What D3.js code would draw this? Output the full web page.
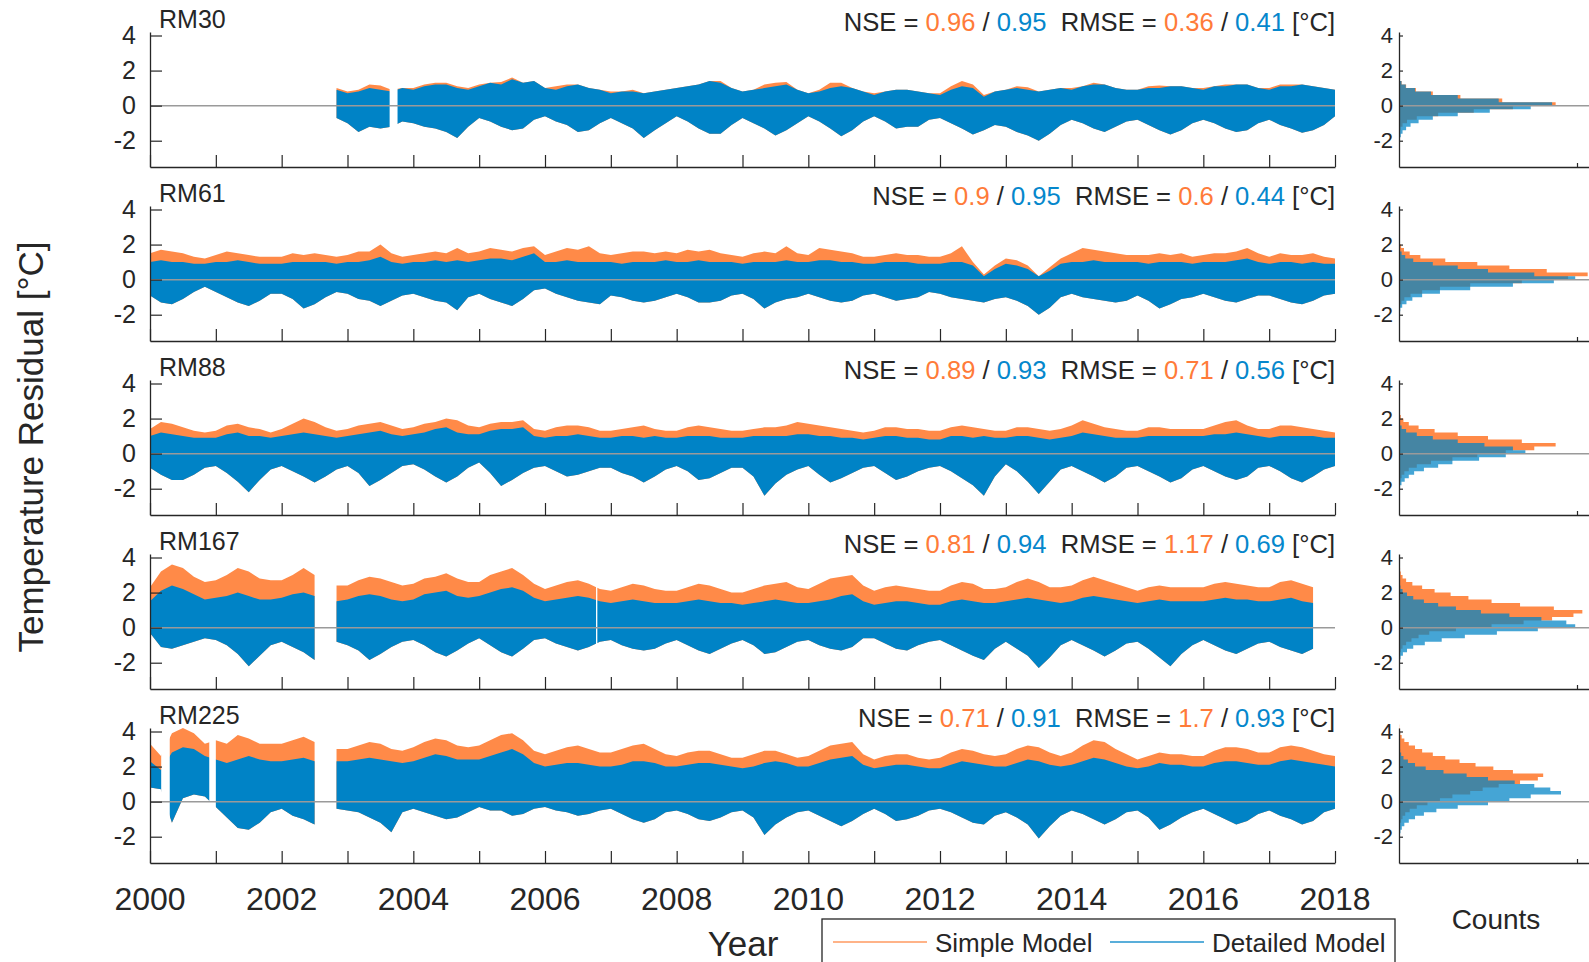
<!DOCTYPE html>
<html>
<head>
<meta charset="utf-8">
<script src="https://cdn.jsdelivr.net/npm/d3@7"></script>
<style>
  body { margin: 0; background: #fff; }
  text { font-family: "Liberation Sans", Arial, sans-serif; fill: #262626; }
</style>
</head>
<body>
<svg id="chart" width="1589" height="962"></svg>
<script>
// station names and model scores
const stations = ["RM30", "RM61", "RM88", "RM167", "RM225"];
const nseSimple = ["0.96", "0.9", "0.89", "0.81", "0.71"];
const nseDetailed = ["0.95", "0.95", "0.93", "0.94", "0.91"];
const rmseSimple = ["0.36", "0.6", "0.71", "1.17", "1.7"];
const rmseDetailed = ["0.41", "0.44", "0.56", "0.69", "0.93"];

// axis ticks
const yTicks = [-2, 0, 2, 4];
const yearTicks = [2000,2001,2002,2003,2004,2005,2006,2007,2008,2009,2010,2011,2012,2013,2014,2015,2016,2017,2018];
const yearLabels = [2000,2002,2004,2006,2008,2010,2012,2014,2016,2018];

// residual envelopes, read every two months (2000.0 ... 2018.0), null = no data
const sampleTimes = d3.range(109).map(k => 2000 + k / 6);

const simpleHi_RM30 = [null,null,null,null,null,null, null,null,null,null,null,null, null,null,null,null,null,1.0,
  0.8,0.9,1.2,1.15,0.9,1.0, 1.0,1.2,1.3,1.3,1.1,1.0, 1.2,1.3,1.35,1.6,1.3,1.4, 1.0,1.1,1.2,1.2,1.0,0.9,
  0.8,0.8,0.9,0.7,0.8,0.9, 1.0,1.1,1.2,1.4,1.4,1.0, 0.8,0.9,1.2,1.3,1.35,0.9, 0.7,0.9,1.3,1.3,1.0,0.8,
  0.7,0.8,0.9,0.9,0.8,0.7, 0.7,1.1,1.4,1.2,0.6,0.8, 0.9,1.1,1.05,0.8,0.9,1.0, 1.0,1.1,1.3,1.2,1.0,0.9,
  0.9,1.1,1.15,1.1,1.1,1.0, 1.0,1.1,1.2,1.2,1.2,1.0, 1.0,1.2,1.2,1.2,1.1,1.0, 0.9];
const detailedHi_RM30 = [null,null,null,null,null,null, null,null,null,null,null,null, null,null,null,null,null,0.9,
  0.7,0.8,1.0,0.9,0.8,1.0, 0.9,1.1,1.2,1.2,1.0,0.9, 1.1,1.3,1.2,1.5,1.3,1.4, 1.0,0.9,1.1,1.2,1.0,0.9,
  0.7,0.8,0.8,0.7,0.8,0.9, 1.0,1.1,1.2,1.4,1.3,1.0, 0.8,0.9,1.0,1.1,1.2,0.9, 0.7,0.8,1.0,1.1,1.0,0.8,
  0.6,0.8,0.9,0.9,0.8,0.7, 0.6,0.9,1.1,1.0,0.5,0.8, 0.9,1.0,0.9,0.8,0.9,1.0, 0.9,1.1,1.2,1.2,1.0,0.9,
  0.9,1.0,1.0,1.1,1.1,1.0, 0.9,1.1,1.1,1.2,1.2,1.0, 0.9,1.1,1.1,1.2,1.1,1.0, 0.9];
const detailedLo_RM30 = [null,null,null,null,null,null, null,null,null,null,null,null, null,null,null,null,null,-0.7,
  -1.0,-1.5,-1.2,-1.3,-1.2,-0.9, -1.0,-1.2,-1.3,-1.5,-1.85,-1.2, -0.7,-0.9,-1.2,-1.4,-1.3,-0.8, -0.6,-0.9,-1.1,-1.5,-1.4,-1.0,
  -0.7,-1.0,-1.3,-1.85,-1.4,-1.0, -0.6,-0.9,-1.3,-1.6,-1.6,-1.1, -0.7,-1.0,-1.3,-1.7,-1.4,-1.0, -0.6,-0.9,-1.3,-1.75,-1.4,-0.9,
  -0.6,-0.9,-1.3,-1.2,-1.2,-0.8, -0.7,-1.0,-1.3,-1.65,-1.4,-1.1, -1.2,-1.5,-1.7,-2.0,-1.6,-1.1, -0.8,-1.0,-1.3,-1.5,-1.2,-0.9,
  -0.8,-1.1,-1.4,-1.65,-1.4,-1.0, -0.8,-1.0,-1.3,-1.5,-1.4,-1.0, -0.8,-1.1,-1.3,-1.55,-1.4,-1.1, -0.6];

const simpleHi_RM61 = [1.5,1.7,1.6,1.5,1.3,1.2, 1.4,1.6,1.5,1.4,1.3,1.3, 1.3,1.5,1.4,1.5,1.4,1.3, 1.4,1.6,1.6,2.0,1.5,1.3,
  1.4,1.5,1.6,1.5,1.8,1.5, 1.6,1.8,1.7,1.6,1.8,1.9, 1.4,1.6,1.8,1.7,1.9,1.5, 1.4,1.5,1.6,1.6,1.5,1.6,
  1.5,1.7,1.6,1.7,1.5,1.4, 1.3,1.5,1.6,1.5,1.9,1.5, 1.4,1.8,1.7,1.6,1.5,1.3, 1.3,1.4,1.5,1.4,1.4,1.3,
  1.3,1.5,1.9,1.0,0.3,0.8, 1.2,1.1,0.8,0.2,0.7,1.2, 1.5,1.8,1.7,1.6,1.5,1.4, 1.4,1.4,1.5,1.4,1.5,1.3,
  1.4,1.5,1.5,1.6,1.8,1.5, 1.3,1.5,1.4,1.4,1.5,1.3, 1.2];
const detailedHi_RM61 = [1.0,1.1,1.0,1.0,0.9,0.9, 1.0,1.0,1.1,1.0,0.9,0.9, 0.9,1.0,1.0,1.0,1.0,0.9, 1.0,1.0,1.1,1.3,1.0,0.9,
  1.0,1.0,1.1,1.0,1.1,1.0, 1.1,1.2,1.2,1.1,1.3,1.5, 1.0,1.0,1.1,1.0,1.0,1.0, 1.0,0.9,1.0,1.0,1.0,1.1,
  1.0,1.0,1.1,1.0,1.0,1.0, 0.9,1.0,1.0,1.0,1.1,1.0, 1.0,1.1,1.1,1.0,1.0,0.9, 0.9,1.0,1.0,1.0,0.9,0.9,
  0.9,1.0,1.0,0.8,0.2,0.6, 0.9,0.8,0.6,0.2,0.5,0.9, 1.0,1.0,1.1,1.0,1.0,1.0, 1.0,0.9,1.0,1.0,1.0,0.9,
  1.0,1.0,1.0,1.1,1.2,1.0, 0.9,1.0,1.0,0.9,1.0,0.9, 0.9];
const detailedLo_RM61 = [-0.9,-1.3,-1.4,-1.1,-0.7,-0.4, -0.7,-1.0,-1.3,-1.5,-1.2,-0.8, -0.8,-1.1,-1.65,-1.4,-1.0,-0.7, -0.8,-1.1,-1.2,-1.5,-1.2,-0.9,
  -0.8,-1.0,-1.2,-1.3,-1.75,-1.0, -0.8,-1.1,-1.3,-1.5,-1.1,-0.6, -0.5,-0.8,-1.0,-1.2,-1.3,-1.4, -0.9,-1.0,-1.2,-1.3,-1.2,-1.0,
  -0.8,-1.0,-1.3,-1.3,-1.2,-0.9, -0.8,-1.1,-1.65,-1.3,-1.1,-1.0, -0.8,-1.0,-1.2,-1.3,-1.2,-0.9, -0.8,-1.0,-1.2,-1.1,-1.0,-0.7,
  -0.8,-1.0,-1.1,-1.2,-1.3,-1.1, -1.0,-1.2,-1.5,-2.0,-1.6,-1.0, -0.8,-1.0,-1.1,-1.2,-1.3,-1.2, -0.9,-1.2,-1.65,-1.4,-1.1,-1.0,
  -0.8,-1.0,-1.2,-1.3,-1.1,-0.9, -0.9,-1.1,-1.3,-1.4,-1.2,-0.9, -0.8];

const simpleHi_RM88 = [1.4,1.8,1.7,1.5,1.3,1.2, 1.3,1.6,1.7,1.5,1.4,1.2, 1.4,1.7,2.0,1.8,1.5,1.3, 1.4,1.6,1.7,1.8,1.6,1.4,
  1.5,1.7,1.8,2.0,1.9,1.6, 1.5,1.7,1.8,1.8,1.9,1.4, 1.3,1.5,1.6,1.6,1.5,1.3, 1.3,1.4,1.5,1.6,1.4,1.3,
  1.3,1.5,1.6,1.5,1.4,1.3, 1.3,1.4,1.5,1.5,1.6,1.8, 1.7,1.6,1.5,1.4,1.3,1.2, 1.3,1.5,1.5,1.4,1.4,1.3,
  1.3,1.5,1.6,1.5,1.4,1.3, 1.3,1.5,1.5,1.4,1.3,1.4, 1.6,1.9,1.7,1.5,1.4,1.3, 1.3,1.5,1.5,1.4,1.4,1.4,
  1.4,1.6,1.8,1.9,1.6,1.4, 1.4,1.6,1.6,1.5,1.4,1.3, 1.2];
const detailedHi_RM88 = [1.0,1.2,1.1,1.0,0.9,0.9, 0.9,1.1,1.2,1.0,1.0,0.9, 1.0,1.1,1.2,1.1,1.0,0.9, 1.0,1.1,1.2,1.3,1.1,1.0,
  1.1,1.2,1.4,1.5,1.2,1.1, 1.1,1.3,1.4,1.4,1.5,1.0, 0.9,1.0,1.0,1.1,1.0,0.9, 0.9,1.0,1.0,0.9,1.0,0.9,
  0.9,1.0,1.0,1.0,0.9,0.9, 0.9,1.0,1.0,1.0,1.0,1.1, 1.1,1.0,1.0,0.9,0.9,0.8, 0.9,1.0,1.0,0.9,0.9,0.8,
  0.8,1.0,1.0,0.9,1.0,0.9, 0.9,1.0,1.0,0.9,0.8,0.9, 1.0,1.2,1.1,1.0,0.9,0.9, 0.9,1.0,1.0,1.0,1.0,1.0,
  1.0,1.1,1.1,1.2,1.1,1.0, 0.9,1.0,1.0,1.0,1.0,0.9, 0.9];
const detailedLo_RM88 = [-0.8,-1.2,-1.5,-1.5,-1.2,-0.8, -0.7,-1.1,-1.6,-2.2,-1.5,-0.9, -0.7,-1.0,-1.3,-1.65,-1.3,-0.9, -0.7,-1.1,-1.85,-1.5,-1.1,-0.7,
  -0.6,-0.9,-1.3,-1.65,-1.3,-0.8, -0.5,-1.1,-1.85,-1.5,-1.1,-0.8, -0.7,-1.0,-1.3,-1.2,-1.0,-0.8, -0.8,-1.1,-1.3,-1.65,-1.3,-0.9,
  -0.7,-1.0,-1.5,-1.4,-1.1,-0.8, -0.8,-1.3,-2.4,-1.7,-1.2,-0.9, -0.7,-1.2,-1.65,-1.4,-1.1,-0.8, -0.7,-1.1,-1.5,-1.3,-1.0,-0.8,
  -0.7,-1.0,-1.4,-1.8,-2.4,-1.3, -0.6,-1.0,-1.6,-2.3,-1.6,-0.9, -0.7,-1.0,-1.3,-1.65,-1.3,-0.8, -0.7,-1.0,-1.3,-1.65,-1.4,-0.9,
  -0.7,-1.0,-1.3,-1.5,-1.3,-0.8, -0.7,-1.0,-1.4,-1.65,-1.3,-0.9, -0.7];

const simpleHi_RM167 = [2.3,3.2,3.6,3.4,2.9,2.6, 2.7,3.0,3.4,3.2,2.8,2.7, 2.7,3.0,3.4,3.0,null,2.4, 2.4,2.7,2.9,2.8,2.6,2.4,
  2.5,2.8,2.9,3.1,2.8,2.6, 2.6,3.0,3.2,3.4,3.0,2.5, 2.2,2.4,2.6,2.7,2.5,2.2, 2.1,2.3,2.5,2.4,2.2,2.1,
  2.1,2.3,2.5,2.4,2.2,2.0, 2.0,2.2,2.4,2.5,2.6,2.3, 2.2,2.5,2.8,2.9,3.0,2.4, 2.1,2.3,2.4,2.3,2.2,2.1,
  2.1,2.4,2.6,2.5,2.2,2.2, 2.3,2.6,2.8,2.6,2.3,2.3, 2.4,2.7,2.9,2.7,2.5,2.3, 2.1,2.3,2.4,2.3,2.3,2.3,
  2.3,2.5,2.6,2.5,2.4,2.3, 2.3,2.6,2.7,2.5,2.3,null, null];
const detailedHi_RM167 = [1.5,2.1,2.4,2.2,1.9,1.6, 1.7,1.8,2.0,1.8,1.6,1.6, 1.7,1.9,2.0,1.8,null,1.5, 1.6,1.8,1.9,1.8,1.6,1.5,
  1.6,1.9,2.0,2.1,1.8,1.7, 1.8,2.0,2.2,2.3,2.1,1.7, 1.5,1.6,1.7,1.8,1.7,1.5, 1.4,1.5,1.6,1.5,1.4,1.4,
  1.4,1.5,1.6,1.5,1.4,1.4, 1.3,1.4,1.5,1.6,1.5,1.4, 1.4,1.5,1.6,1.8,1.9,1.5, 1.3,1.4,1.5,1.5,1.4,1.3,
  1.3,1.5,1.6,1.5,1.4,1.4, 1.5,1.6,1.7,1.6,1.5,1.4, 1.5,1.7,1.8,1.7,1.6,1.5, 1.4,1.5,1.6,1.5,1.5,1.5,
  1.5,1.6,1.7,1.6,1.6,1.5, 1.5,1.6,1.7,1.5,1.4,null, null];
const detailedLo_RM167 = [-0.3,-1.1,-1.2,-1.0,-0.8,-0.6, -0.7,-1.0,-1.5,-2.2,-1.6,-1.0, -0.8,-1.1,-1.4,-1.85,null,-0.8, -1.0,-1.3,-1.85,-1.5,-1.1,-0.8,
  -0.7,-1.0,-1.4,-1.65,-1.3,-0.9, -0.6,-1.0,-1.4,-1.65,-1.2,-0.7, -0.6,-0.9,-1.1,-1.3,-1.1,-0.8, -0.7,-1.0,-1.2,-1.3,-1.2,-0.9,
  -0.7,-1.0,-1.3,-1.5,-1.2,-0.9, -0.7,-1.0,-1.5,-1.4,-1.1,-0.8, -0.7,-1.0,-1.2,-1.3,-1.1,-0.6, -0.6,-0.9,-1.2,-1.3,-1.0,-0.8,
  -0.7,-1.0,-1.3,-1.6,-1.85,-1.2, -0.8,-1.2,-1.6,-2.3,-1.7,-1.0, -0.7,-1.0,-1.3,-1.65,-1.3,-0.9, -0.8,-1.2,-1.7,-2.2,-1.5,-1.0,
  -0.7,-1.0,-1.3,-1.5,-1.2,-0.9, -0.8,-1.1,-1.3,-1.5,-1.2,null, null];

const simpleHi_RM225 = [3.3,2.6,3.9,4.2,3.9,3.3, 3.5,3.3,3.8,3.6,3.3,3.3, 3.3,3.5,3.7,3.4,null,3.0, 3.0,3.2,3.4,3.3,3.0,2.9,
  3.1,3.4,3.6,3.5,3.2,3.1, 3.2,3.5,3.8,3.9,3.5,2.9, 2.7,2.9,3.1,3.2,3.0,2.8, 2.8,3.0,3.2,3.3,3.0,2.7,
  2.6,2.8,2.9,2.9,2.7,2.5, 2.5,2.7,2.9,2.9,2.7,2.5, 2.6,2.9,3.2,3.3,3.4,2.7, 2.4,2.6,2.7,2.7,2.5,2.4,
  2.5,2.8,3.0,2.9,2.7,2.6, 2.7,3.0,3.2,3.1,2.8,2.6, 2.8,3.2,3.5,3.4,3.0,2.7, 2.4,2.6,2.8,2.7,2.7,2.6,
  2.6,2.9,3.1,3.1,3.0,2.8, 2.8,3.1,3.2,3.1,2.9,2.7, 2.6];
const detailedHi_RM225 = [2.3,1.8,2.8,3.1,3.0,2.6, 2.4,2.2,2.4,2.6,2.4,2.3, 2.3,2.4,2.5,2.3,null,2.3, 2.3,2.4,2.5,2.4,2.3,2.2,
  2.3,2.5,2.7,2.6,2.4,2.4, 2.4,2.6,2.8,3.0,2.7,2.2, 2.0,2.1,2.2,2.2,2.1,2.0, 2.0,2.1,2.3,2.3,2.2,2.0,
  2.0,2.1,2.2,2.2,2.1,2.0, 1.9,2.0,2.2,2.3,2.2,2.0, 2.0,2.2,2.4,2.5,2.6,2.1, 1.9,2.0,2.1,2.1,2.0,1.9,
  1.9,2.1,2.3,2.2,2.1,2.0, 2.0,2.2,2.4,2.3,2.1,2.0, 2.1,2.3,2.5,2.4,2.2,2.0, 1.9,2.0,2.2,2.1,2.1,2.0,
  2.0,2.2,2.3,2.3,2.2,2.1, 2.1,2.3,2.4,2.3,2.2,2.1, 2.0];
const detailedLo_RM225 = [0.8,0.7,-1.2,0.2,0.4,0.3, -0.3,-0.9,-1.5,-1.6,-1.2,-0.6, -0.4,-0.8,-1.0,-1.3,null,-0.4, -0.5,-0.6,-0.9,-1.2,-1.75,-0.6,
  -0.4,-0.6,-0.8,-1.0,-0.9,-0.6, -0.3,-0.5,-0.5,-0.8,-0.7,-0.4, -0.3,-0.5,-0.6,-0.8,-0.7,-0.5, -0.4,-0.7,-1.0,-1.2,-1.0,-0.6,
  -0.5,-0.7,-1.0,-1.1,-0.9,-0.6, -0.5,-0.9,-1.9,-1.3,-0.9,-0.6, -0.5,-0.8,-1.1,-1.4,-1.1,-0.7, -0.4,-0.7,-1.1,-1.0,-0.8,-0.5,
  -0.4,-0.6,-0.9,-1.2,-1.3,-0.8, -0.6,-0.9,-1.3,-2.1,-1.4,-0.8, -0.5,-0.7,-1.0,-1.3,-1.0,-0.6, -0.5,-0.9,-1.6,-1.3,-0.9,-0.6,
  -0.4,-0.7,-1.0,-1.3,-1.1,-0.7, -0.5,-0.8,-1.0,-1.3,-1.1,-0.6, -0.4];

// short data gaps [from, to] in years
const gaps_RM30 = [[2003.64, 2003.76]];
const gaps_RM61 = [];
const gaps_RM88 = [];
const gaps_RM167 = [[2006.775, 2006.795]];
const gaps_RM225 = [[2000.17, 2000.30], [2000.90, 2001.00]];

// residual histograms, bins of 0.2 starting at these lower edges
const binLo = [-2.4,-2.2,-2.0,-1.8,-1.6,-1.4,-1.2,-1.0,-0.8,-0.6,-0.4,-0.2,0.0,0.2,0.4,0.6,0.8,1.0,1.2,1.4,1.6,1.8,2.0,2.2,2.4,2.6,2.8,3.0,3.2,3.4,3.6,3.8,4.0,4.2];
const histSimple_RM30 = [0,0,0,1,3,8,20,45,100,220,420,640,880,580,345,190,95,40,15,5,2,0,0,0,0,0,0,0,0,0,0,0,0,0];
const histDetailed_RM30 = [1,2,5,10,20,40,65,110,190,330,510,740,860,560,330,180,90,38,14,5,2,0,0,0,0,0,0,0,0,0,0,0,0,0];
const histSimple_RM61 = [0,0,1,3,6,14,30,65,130,230,400,690,950,1060,830,620,440,260,120,60,28,12,5,2,0,0,0,0,0,0,0,0,0,0];
const histDetailed_RM61 = [1,2,4,7,18,42,75,130,230,400,640,870,990,760,500,330,190,80,35,15,6,3,1,1,0,0,0,0,0,0,0,0,0,0];
const histSimple_RM88 = [0,0,2,4,8,15,30,55,100,180,300,440,600,760,880,690,500,330,200,110,55,25,10,4,2,1,0,0,0,0,0,0,0,0];
const histDetailed_RM88 = [1,3,6,14,32,55,85,140,220,300,450,600,710,640,480,330,190,100,40,15,5,2,0,0,0,0,0,0,0,0,0,0,0,0];
const histSimple_RM167 = [0,0,0,2,5,10,20,40,70,110,170,320,520,700,860,980,1030,870,680,520,390,290,200,130,75,40,20,10,6,3,2,1,0,0];
const histDetailed_RM167 = [0,2,4,9,22,45,80,145,240,370,550,780,990,940,800,620,460,320,220,140,80,45,20,8,4,2,1,0,0,0,0,0,0,0];
const histSimple_RM225 = [0,0,0,1,3,6,12,20,35,60,100,160,230,300,400,470,560,680,780,810,640,530,430,340,260,190,130,90,55,30,15,7,3,1];
const histDetailed_RM225 = [0,1,3,8,16,30,55,90,140,210,330,500,620,740,910,850,760,650,500,380,250,150,90,50,25,12,6,3,1,0,0,0,0,0];

const simpleHi = [simpleHi_RM30, simpleHi_RM61, simpleHi_RM88, simpleHi_RM167, simpleHi_RM225];
const detailedHi = [detailedHi_RM30, detailedHi_RM61, detailedHi_RM88, detailedHi_RM167, detailedHi_RM225];
const detailedLo = [detailedLo_RM30, detailedLo_RM61, detailedLo_RM88, detailedLo_RM167, detailedLo_RM225];
const gaps = [gaps_RM30, gaps_RM61, gaps_RM88, gaps_RM167, gaps_RM225];
const histSimple = [histSimple_RM30, histSimple_RM61, histSimple_RM88, histSimple_RM167, histSimple_RM225];
const histDetailed = [histDetailed_RM30, histDetailed_RM61, histDetailed_RM88, histDetailed_RM167, histDetailed_RM225];

const ORANGE = "#ff8a48", BLUE = "#0083c6", AXIS = "#262626";
const TXT_ORANGE = "#ff7b39", TXT_BLUE = "#0587cc";

const svg = d3.select("#chart");
svg.append("rect").attr("width", 1589).attr("height", 962).attr("fill", "#fff");

// scales
const x = d3.scaleLinear().domain([2000, 2018]).range([150, 1335]);
const xh = d3.scaleLinear().domain([0, 1100]).range([1399, 1594.8]);
const panelH = 135, panelStep = 174, panelTop0 = 32;
const y = d3.scaleLinear().domain([-3.5, 4.2]).range([panelH, 0]);

function styleAxis(g, size) {
  g.attr("color", AXIS);
  g.select(".domain").attr("stroke-width", 1.3);
  g.selectAll(".tick line").attr("stroke-width", 1.2);
  g.selectAll(".tick text").style("font-size", size + "px").attr("fill", AXIS);
}

stations.forEach((name, i) => {
  const g = svg.append("g").attr("transform", `translate(0,${panelTop0 + panelStep * i})`);

  const rows = sampleTimes.map((t, k) => ({
    t: t, s: simpleHi[i][k], hi: detailedHi[i][k], lo: detailedLo[i][k]
  }));

  // simple model first, detailed model on top
  g.append("path").datum(rows)
    .attr("fill", ORANGE)
    .attr("d", d3.area().defined(d => d.s != null)
      .x(d => x(d.t)).y0(d => y(d.lo)).y1(d => y(d.s)));
  g.append("path").datum(rows)
    .attr("fill", BLUE)
    .attr("d", d3.area().defined(d => d.hi != null)
      .x(d => x(d.t)).y0(d => y(d.lo)).y1(d => y(d.hi)));

  // missing records
  g.selectAll(".gap").data(gaps[i]).join("rect")
    .attr("x", d => x(d[0])).attr("width", d => x(d[1]) - x(d[0]))
    .attr("y", 0).attr("height", panelH - 1).attr("fill", "#fff");

  g.append("line")
    .attr("x1", x(2000)).attr("x2", x(2018))
    .attr("y1", y(0)).attr("y2", y(0))
    .attr("stroke", "#9a9a9a").attr("stroke-width", 1.5);

  const ya = g.append("g").attr("transform", `translate(${x(2000)},0)`)
    .call(d3.axisLeft(y).tickValues(yTicks).tickFormat(d => String(d))
      .tickSizeInner(-12).tickSizeOuter(0).tickPadding(14));
  styleAxis(ya, 25);
  const xa = g.append("g").attr("transform", `translate(0,${panelH})`)
    .call(d3.axisBottom(x).tickValues(yearTicks).tickSizeInner(-12).tickSizeOuter(0).tickFormat(""));
  styleAxis(xa, 25);

  g.append("text").attr("x", 159).attr("y", -4)
    .style("font-size", "25px").text(name);

  const st = g.append("text").attr("x", 1335).attr("y", -1)
    .attr("text-anchor", "end").style("font-size", "25.6px").attr("xml:space", "preserve");
  st.append("tspan").text("NSE = ");
  st.append("tspan").style("fill", TXT_ORANGE).text(nseSimple[i]);
  st.append("tspan").text(" / ");
  st.append("tspan").style("fill", TXT_BLUE).text(nseDetailed[i]);
  st.append("tspan").text("  RMSE = ");
  st.append("tspan").style("fill", TXT_ORANGE).text(rmseSimple[i]);
  st.append("tspan").text(" / ");
  st.append("tspan").style("fill", TXT_BLUE).text(rmseDetailed[i]);
  st.append("tspan").text(" [°C]");

  // histogram panel
  const pts = (arr) => {
    const out = [];
    binLo.forEach((b, j) => {
      out.push({v: b, c: arr[j]});
      out.push({v: b + 0.2, c: arr[j]});
    });
    return out;
  };
  const harea = d3.area().y(d => y(d.v)).x0(xh(0)).x1(d => xh(d.c));
  g.append("path").datum(pts(histSimple[i])).attr("fill", ORANGE).attr("d", harea);
  g.append("path").datum(pts(histDetailed[i])).attr("fill", BLUE).attr("fill-opacity", 0.73).attr("d", harea);

  g.append("line")
    .attr("x1", xh(0)).attr("x2", 1589)
    .attr("y1", y(0)).attr("y2", y(0))
    .attr("stroke", "#9a9a9a").attr("stroke-width", 1.5);

  const hy = g.append("g").attr("transform", `translate(${xh(0)},0)`)
    .call(d3.axisLeft(y).tickValues(yTicks).tickFormat(d => String(d))
      .tickSizeInner(-4).tickSizeOuter(0).tickPadding(6));
  styleAxis(hy, 22);
  const hx = g.append("g").attr("transform", `translate(0,${panelH})`)
    .call(d3.axisBottom(xh).tickValues([1000]).tickSizeInner(-4).tickSizeOuter(0).tickFormat(""));
  styleAxis(hx, 22);
});

// year labels under the last panel
svg.append("g").selectAll("text").data(yearLabels).join("text")
  .attr("x", d => x(d)).attr("y", 910)
  .attr("text-anchor", "middle").style("font-size", "32px")
  .text(d => d);

svg.append("text").attr("x", 743).attr("y", 956)
  .attr("text-anchor", "middle").style("font-size", "35px").text("Year");

svg.append("text")
  .attr("transform", "translate(30,447) rotate(-90)")
  .attr("text-anchor", "middle").attr("dominant-baseline", "central")
  .style("font-size", "35px").text("Temperature Residual [°C]");

svg.append("text").attr("x", 1496).attr("y", 929)
  .attr("text-anchor", "middle").style("font-size", "28px").text("Counts");

// legend
const legendItems = [
  {label: "Simple Model", color: ORANGE, x0: 833},
  {label: "Detailed Model", color: BLUE, x0: 1110}
];
const leg = svg.append("g");
leg.append("rect").attr("x", 822).attr("y", 919).attr("width", 573).attr("height", 60)
  .attr("fill", "#fff").attr("stroke", AXIS).attr("stroke-width", 1.3);
legendItems.forEach(it => {
  leg.append("line").attr("x1", it.x0).attr("x2", it.x0 + 94)
    .attr("y1", 942).attr("y2", 942)
    .attr("stroke", it.color).attr("stroke-opacity", 0.65).attr("stroke-width", 2);
  leg.append("text").attr("x", it.x0 + 102).attr("y", 952)
    .style("font-size", "26px").text(it.label);
});
</script>
</body>
</html>
